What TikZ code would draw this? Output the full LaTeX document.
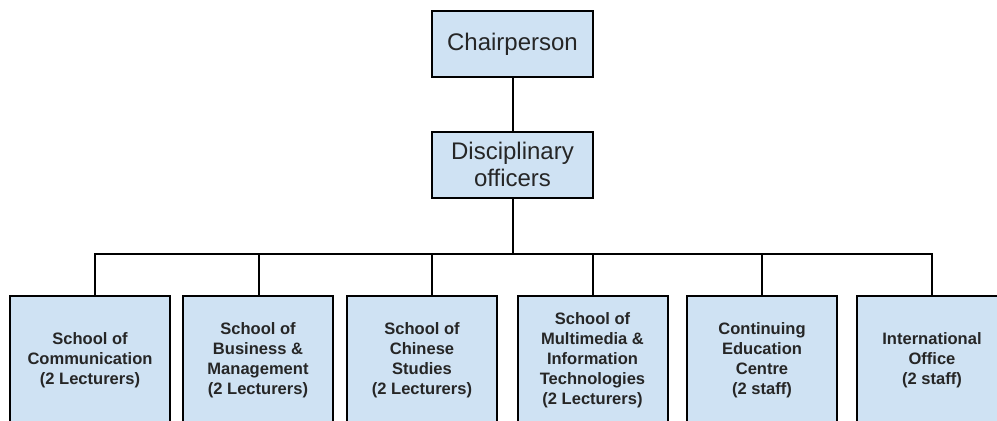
\documentclass[tikz,border=0pt]{standalone}
\usepackage{fontspec}
\setmainfont{Liberation Sans}
\usetikzlibrary{positioning}
\usetikzlibrary{calc}
\definecolor{box blue}{HTML}{CFE2F3}
\definecolor{box text}{HTML}{262626}
\tikzset{
    % Plain black lines joining the boxes
    chart line/.style={draw=black, line width=1.5pt},
%
    % The two upper boxes, larger plain text
    top box/.style={
        draw, line width=1.5pt, fill=box blue, text=box text,
        minimum width=120.75pt, minimum height=49.5pt, align=center,
        font=\fontsize{18}{20.25}\selectfont},
%
    % Lower row of schools and offices
    unit box/.style={
        draw, line width=1.5pt, fill=box blue, text=box text,
        minimum width=112.5pt, minimum height=96pt, inner xsep=13pt,
        align=center, font=\bfseries\fontsize{12.4}{15}\selectfont}}

\begin{document}
\begin{tikzpicture}[x=0.75pt, y=-0.75pt]
\useasboundingbox (0,0) rectangle (997,421);

% Chairperson with the officers below
\path
    node[top box] (chair) at (512.5,44) {Chairperson}
    node[top box] (officers) at (512.5,164.5) {Disciplinary\\officers};

\draw[chart line] (chair) -- (officers);

% Bar feeding the lower row
\coordinate (bar) at ($(officers.south)+(0,55)$);
\draw[chart line] (officers.south) -- (bar);

% The schools and offices
\path
    node[unit box] (comm) at (90,360) {School of\\Communication\\(2 Lecturers)}
    node[unit box] (business) at (258,360)
        {School of\\Business \&\\Management\\(2 Lecturers)}
    node[unit box] (chinese) at (422,360)
        {School of\\Chinese\\Studies\\(2 Lecturers)}
    node[unit box] (multimedia) at (592.5,360)
        {School of\\Multimedia \&\\Information\\Technologies\\(2 Lecturers)}
    node[unit box] (continuing) at (762,360)
        {Continuing\\Education\\Centre\\(2 staff)}
    node[unit box] (intl) at (932,360) {International\\Office\\(2 staff)};

\foreach \unit/\dx in {comm/5, business/1, chinese/10,
        multimedia/0, continuing/0, intl/0}
    \draw[chart line] ([xshift=\dx*0.75pt]\unit.north) |- (bar);

\end{tikzpicture}
\end{document}
